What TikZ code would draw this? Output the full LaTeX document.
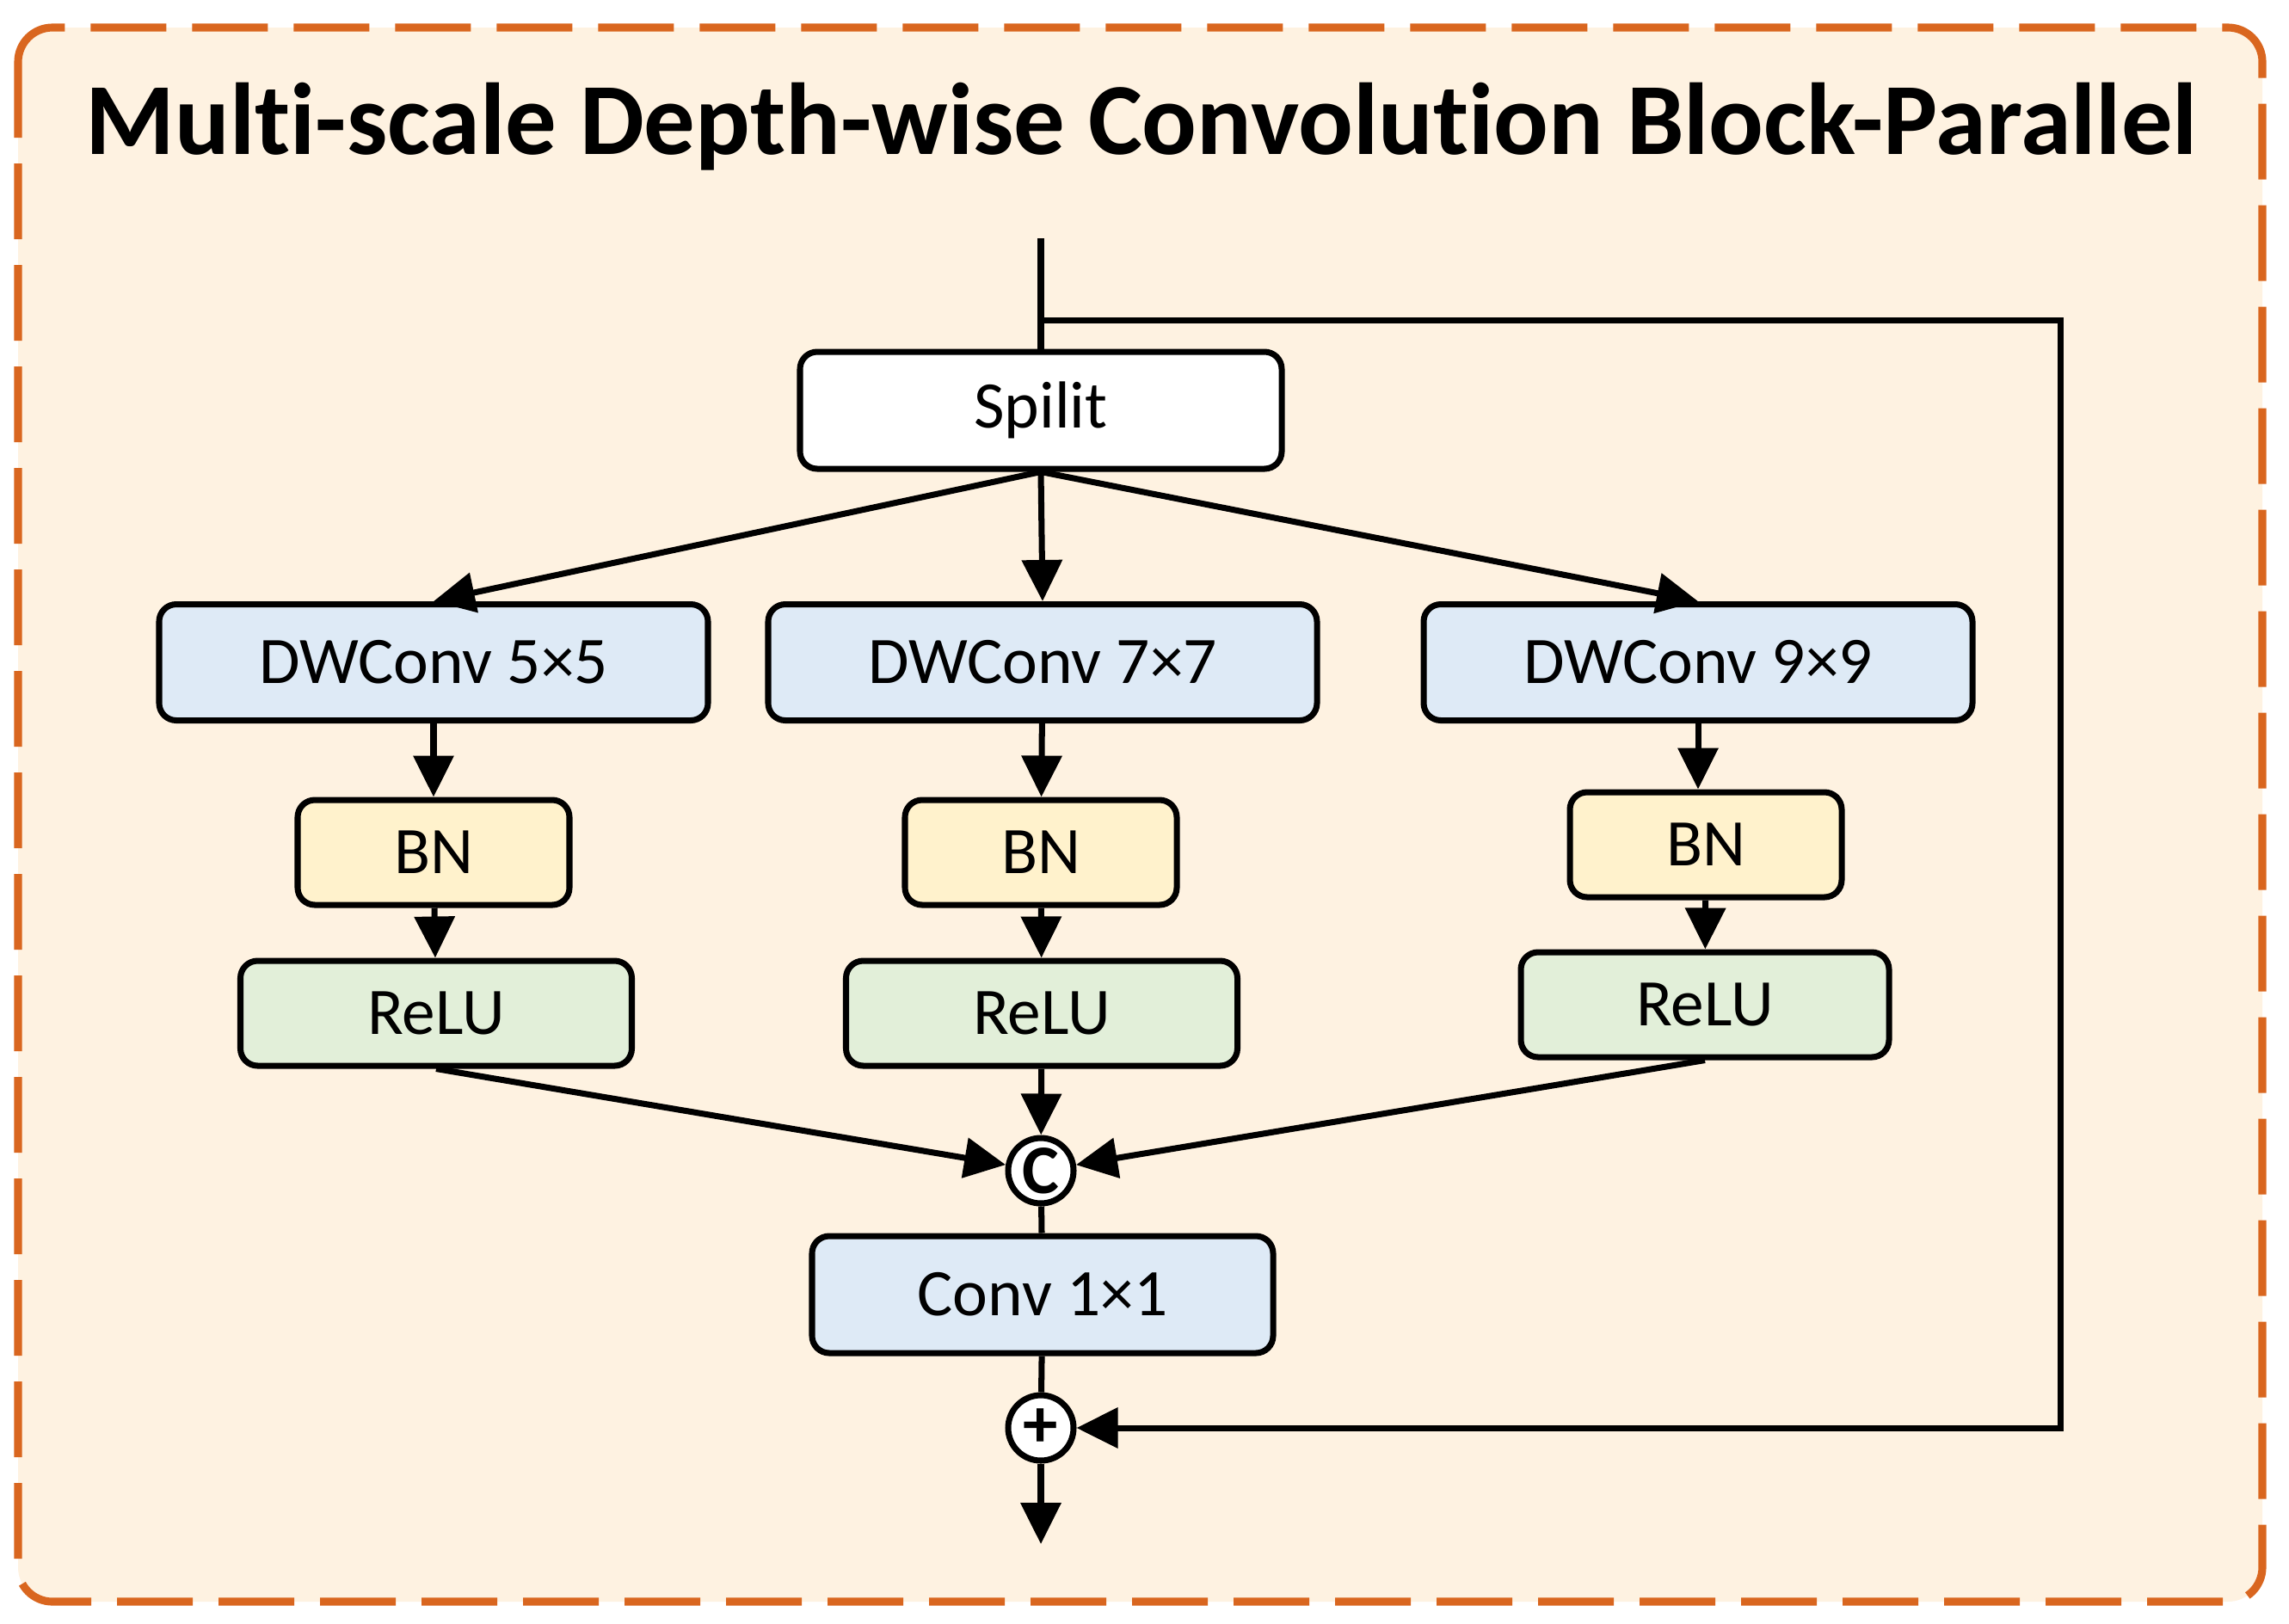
\documentclass[tikz,border=0pt]{standalone}
\usepackage{fontspec}
\setmainfont{Carlito}[Ligatures=NoCommon]
\usepackage{xcolor}
\usetikzlibrary{arrows.meta, positioning, calc}
\definecolor{panelfill}{HTML}{FEF2E1}
\definecolor{paneldraw}{HTML}{D9661F}
\definecolor{convblue}{HTML}{DEEAF6}
\definecolor{bnyellow}{HTML}{FFF2CC}
\definecolor{relugreen}{HTML}{E2EFD9}
\tikzstyle{block} = [rectangle, rounded corners=0.2cm, minimum height=1.35cm, text centered, draw=black, line width=2pt, font=\fontsize{22}{26}\selectfont, inner sep=0pt]
\tikzstyle{conv} = [block, minimum width=6.38cm, fill=convblue]
\tikzstyle{bn} = [block, minimum width=3.16cm, minimum height=1.22cm, fill=bnyellow]
\tikzstyle{relu} = [block, minimum width=4.55cm, minimum height=1.22cm, fill=relugreen]
\tikzstyle{op} = [circle, draw=black, line width=2pt, fill=white, minimum size=0.76cm, inner sep=0pt, font=\fontsize{23}{23}\selectfont\bfseries]
\tikzstyle{arrow} = [line width=2pt, -{Triangle[length=0.48cm, width=0.46cm]}]
\tikzstyle{line} = [line width=2pt]

\begin{document}
\begin{tikzpicture}
            \useasboundingbox (0,0) rectangle (26.61,-18.87);
            % Panel
            \draw [fill=panelfill, draw=paneldraw, line width=2.6pt, dash pattern=on 0.88cm off 0.3cm, rounded corners=0.4cm] (0.21,-0.32) rectangle (26.30,-18.62);
            \node (title) at (13.27,-1.47) {\fontsize{33.8}{40}\selectfont\bfseries Multi-scale Depth-wise Convolution Block-Parallel};

            % Split
            \coordinate (input) at (12.10,-2.77);
            \node (spilit) [block, minimum width=5.6cm, minimum height=1.36cm, fill=white] at (12.10,-4.77) {Spilit};

            % Branches
            \node (dw5) [conv] at (5.04,-7.70) {DWConv 5×5};
            \node (dw7) [conv] at (12.12,-7.70) {DWConv 7×7};
            \node (dw9) [conv] at (19.74,-7.70) {DWConv 9×9};
            \node (bn5) [bn] at (5.04,-9.91) {BN};
            \node (bn7) [bn] at (12.10,-9.91) {BN};
            \node (bn9) [bn] at (19.83,-9.82) {BN};
            \node (relu5) [relu] at (5.07,-11.78) {ReLU};
            \node (relu7) [relu] at (12.11,-11.78) {ReLU};
            \node (relu9) [relu, minimum width=4.28cm] at (19.82,-11.68) {ReLU};

            % Merge
            \node (cat) [op] at (12.10,-13.61) {C};
            \node (conv1) [conv, minimum width=5.36cm, minimum height=1.36cm] at (12.12,-15.05) {Conv 1×1};
            \node (add) [op] at (12.10,-16.60) {+};
            \coordinate (output) at (12.10,-17.95);
            \coordinate (skip) at (12.10,-3.72);
            \coordinate (skipcorner) at (23.95,-3.72);

            % Arrows
            \draw [line] (input) -- (spilit);
            \draw [arrow] (spilit.south) -- (dw5.north);
            \draw [arrow] (spilit.south) -- (dw7.north);
            \draw [arrow] (spilit.south) -- (dw9.north);
            \draw [arrow] (dw5) -- (bn5);
            \draw [arrow] (dw7) -- (bn7);
            \draw [arrow] (dw9.south) -- (dw9.south |- bn9.north);
            \draw [arrow] (bn5) -- (relu5);
            \draw [arrow] (bn7) -- (relu7);
            \draw [arrow] (bn9) -- (relu9);
            \draw [arrow] (relu5.south) -- (cat);
            \draw [arrow] (relu7) -- (cat);
            \draw [arrow] (relu9.south) -- (cat);
            \draw [line] (cat) -- (conv1);
            \draw [line] (conv1) -- (add);
            \draw [arrow] (add) -- (output);
            \draw [arrow] (skip) -- (skipcorner) |- (add);
        \end{tikzpicture}
\end{document}
